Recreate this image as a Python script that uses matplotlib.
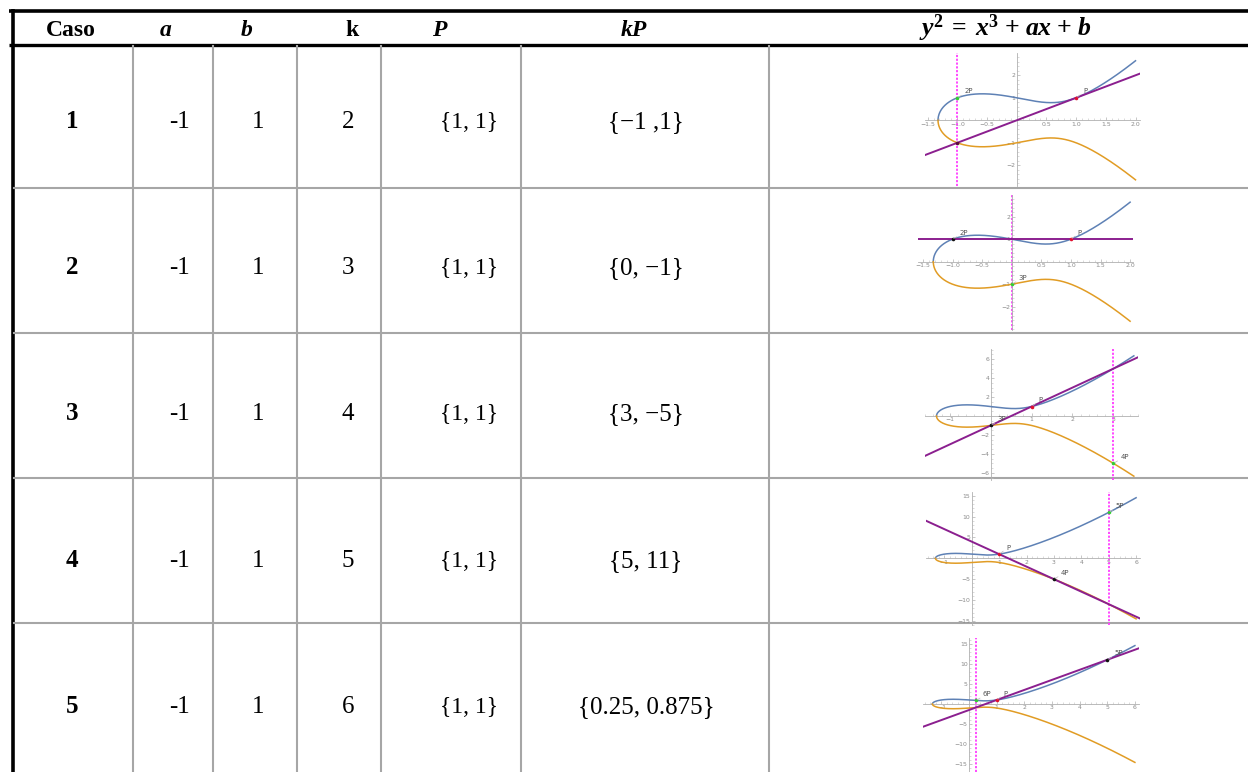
import numpy as np
import matplotlib.pyplot as plt
from matplotlib.ticker import MultipleLocator, FixedLocator, FuncFormatter

plt.rcParams['mathtext.fontset'] = 'custom'
plt.rcParams['mathtext.rm'] = 'Liberation Serif'
plt.rcParams['mathtext.it'] = 'Liberation Serif:italic'
plt.rcParams['mathtext.bf'] = 'Liberation Serif:bold'
plt.rcParams['mathtext.bfit'] = 'Liberation Serif:bold:italic'

# table data
cases = [1, 2, 3, 4, 5]
a_vals = [-1, -1, -1, -1, -1]
b_vals = [1, 1, 1, 1, 1]
k_vals = [2, 3, 4, 5, 6]
P_text = ['{1, 1}'] * 5
kP_text = ['{\u22121 ,1}', '{0, \u22121}', '{3, \u22125}', '{5, 11}', '{0.25, 0.875}']

# points drawn in each small plot
P_pt = (1, 1)
prev_pts = [(1, 1), (-1, 1), (0, -1), (3, -5), (5, 11)]
prev_lbl = ['P', '2P', '3P', '4P', '5P']
kP_pts = [(-1, 1), (0, -1), (3, -5), (5, 11), (0.25, 0.875)]
kP_lbl = ['2P', '3P', '4P', '5P', '6P']
third_pts = [(-1, -1), None, None, None, None]
line_slope = [1, 0, 2, -3, 2.5]
line_icpt = [0, 1, -1, 4, -1.5]
curve_xmax = [2.0, 2.0, 3.5, 6.0, 6.0]

# plot frames: origin pixel, px per unit, limits
frames = [
    dict(ox=1016.7, oy=120.3, sx=59.4, sy=22.5, xl=(-1.55, 2.07), yl=(-2.92, 2.98)),
    dict(ox=1011.7, oy=261.7, sx=59.2, sy=22.5, xl=(-1.58, 2.05), yl=(-3.04, 2.96)),
    dict(ox=990.7, oy=416.0, sx=40.9, sy=9.47, xl=(-1.6, 3.6), yl=(-6.8, 7.1)),
    dict(ox=971.7, oy=558.3, sx=27.4, sy=4.17, xl=(-1.67, 6.13), yl=(-16.0, 15.8)),
    dict(ox=969.0, oy=704.0, sx=27.65, sy=4.02, xl=(-1.66, 6.15), yl=(-17.0, 16.5)),
]
xmajor = [[-1.5, -1.0, -0.5, 0.5, 1.0, 1.5, 2.0]] * 2 + [[-1, 1, 2, 3]] + [[-1, 1, 2, 3, 4, 5, 6]] * 2
ymajor = [[-2, -1, 1, 2]] * 2 + [[-6, -4, -2, 2, 4, 6]] + [[-15, -10, -5, 5, 10, 15]] * 2
xminor = [0.1, 0.1, 0.2, 0.2, 0.2]
yminor = [0.2, 0.2, 0.5, 1, 1]

W, H = 1248, 772
fig = plt.figure(figsize=(W / 100, H / 100), dpi=100)
tab = fig.add_axes([0, 0, 1, 1])
tab.set_xlim(0, W)
tab.set_ylim(H, 0)
tab.axis('off')

serif = 'Liberation Serif'
grey = '#A6A6A6'

# table rules
tab.plot([9, W], [10.5, 10.5], color='black', lw=2.6, solid_capstyle='butt')
tab.plot([9, W], [44.5, 44.5], color='black', lw=2.4, solid_capstyle='butt')
tab.plot([12.5, 12.5], [9, H], color='black', lw=2.6, solid_capstyle='butt')
for xv in [133, 213, 297, 381, 521, 769]:
    tab.plot([xv, xv], [46, H], color=grey, lw=1.5)
for yv in [188, 333, 478, 623]:
    tab.plot([14, W], [yv, yv], color=grey, lw=1.5)

# header
hb = 36
tab.text(71, hb, 'Caso', ha='center', va='baseline', fontsize=17, family=serif, weight='bold')
tab.text(166, hb, 'a', ha='center', va='baseline', fontsize=17, family=serif, weight='bold', style='italic')
tab.text(247, hb, 'b', ha='center', va='baseline', fontsize=17, family=serif, weight='bold', style='italic')
tab.text(352, hb, 'k', ha='center', va='baseline', fontsize=17, family=serif, weight='bold')
tab.text(439, hb, 'P', ha='center', va='baseline', fontsize=17, family=serif, weight='bold', style='italic')
tab.text(634, hb, 'kP', ha='center', va='baseline', fontsize=17, family=serif, weight='bold', style='italic')
tab.text(1005, hb, r'$\mathbfit{y}^{\mathbf{2}}\;\mathbf{=}\;\mathbfit{x}^{\mathbf{3}}\ \mathbf{+}\ '
         r'\mathbfit{ax}\ \mathbf{+}\ \mathbfit{b}$', ha='center', va='baseline', fontsize=18.5)

# rows
baselines = [128, 274, 420, 567, 713]
for i in range(5):
    yb = baselines[i]
    tab.text(72, yb, str(cases[i]), ha='center', va='baseline', fontsize=18, family=serif, weight='bold')
    tab.text(179, yb, str(a_vals[i]), ha='center', va='baseline', fontsize=18, family=serif)
    tab.text(258, yb, str(b_vals[i]), ha='center', va='baseline', fontsize=18, family=serif)
    tab.text(348, yb, str(k_vals[i]), ha='center', va='baseline', fontsize=18, family=serif)
    tab.text(469, yb, P_text[i], ha='center', va='baseline', fontsize=17, family=serif)
    tab.text(646, yb, kP_text[i], ha='center', va='baseline', fontsize=18, family=serif)

for i, fr in enumerate(frames):
    left = fr['ox'] + fr['xl'][0] * fr['sx']
    right = fr['ox'] + fr['xl'][1] * fr['sx']
    top = fr['oy'] - fr['yl'][1] * fr['sy']
    bot = fr['oy'] - fr['yl'][0] * fr['sy']
    ax = fig.add_axes([left / W, 1 - bot / H, (right - left) / W, (bot - top) / H])
    ax.set_facecolor('none')
    ax.set_xlim(*fr['xl'])
    ax.set_ylim(*fr['yl'])
    for s in ['top', 'right']:
        ax.spines[s].set_visible(False)
    for s in ['left', 'bottom']:
        ax.spines[s].set_position(('data', 0))
        ax.spines[s].set_color('#b0b0b0')
        ax.spines[s].set_linewidth(0.6)
    ax.xaxis.set_major_locator(FixedLocator(xmajor[i]))
    ax.yaxis.set_major_locator(FixedLocator(ymajor[i]))
    ax.xaxis.set_minor_locator(MultipleLocator(xminor[i]))
    ax.yaxis.set_minor_locator(MultipleLocator(yminor[i]))
    if i < 2:
        ax.xaxis.set_major_formatter(FuncFormatter(lambda v, p: ('%.1f' % v).replace('-', '\u2212')))
    else:
        ax.xaxis.set_major_formatter(FuncFormatter(lambda v, p: ('%d' % v).replace('-', '\u2212')))
    ax.yaxis.set_major_formatter(FuncFormatter(lambda v, p: ('%d' % v).replace('-', '\u2212')))
    ax.tick_params(which='major', length=2.2, width=0.5, color='#b0b0b0', direction='in',
                   labelsize=4.4, labelcolor='#8a8a8a', pad=1)
    ax.tick_params(which='minor', length=1.2, width=0.4, color='#c0c0c0', direction='in')

    # the curve y^2 = x^3 + ax + b
    a, b = a_vals[i], b_vals[i]
    r = np.roots([1, 0, a, b])
    x0 = np.max(r[np.abs(r.imag) < 1e-9].real)
    t = np.linspace(0, 1, 600)
    xs = x0 + (curve_xmax[i] - x0) * t ** 2
    ys = np.sqrt(np.clip(xs ** 3 + a * xs + b, 0, None))
    ax.plot(xs, ys, color='#5E81B5', lw=1.1, zorder=3)
    ax.plot(xs, -ys, color='#E19C24', lw=1.1, zorder=3)

    ax.axline((0, line_icpt[i]), slope=line_slope[i], color='#8B1F8F', lw=1.4, zorder=4)
    ax.axvline(kP_pts[i][0], color='#FF3CFF', lw=1.3, ls=(0, (1.2, 0.9)), zorder=2)

    pts = [(P_pt, '#E0102E', 'P')]
    if i > 0:
        pts.append((prev_pts[i], '#111111', prev_lbl[i]))
    pts.append((kP_pts[i], '#33CC33', kP_lbl[i]))
    if third_pts[i] is not None:
        pts.append((third_pts[i], '#5a0a3a', None))
    for (px, py), col, lab in pts:
        ax.plot([px], [py], 'o', ms=2.6, color=col, mec='none', zorder=6)
        if lab:
            ax.annotate(lab, (px, py), xytext=(5, 2.5), textcoords='offset points',
                        fontsize=5, color='#555555', va='bottom', ha='left',
                        arrowprops=dict(arrowstyle='-', color='#bbbbbb', lw=0.5,
                                        shrinkA=0, shrinkB=1), zorder=7)

fig.savefig('out.png', dpi=100)
